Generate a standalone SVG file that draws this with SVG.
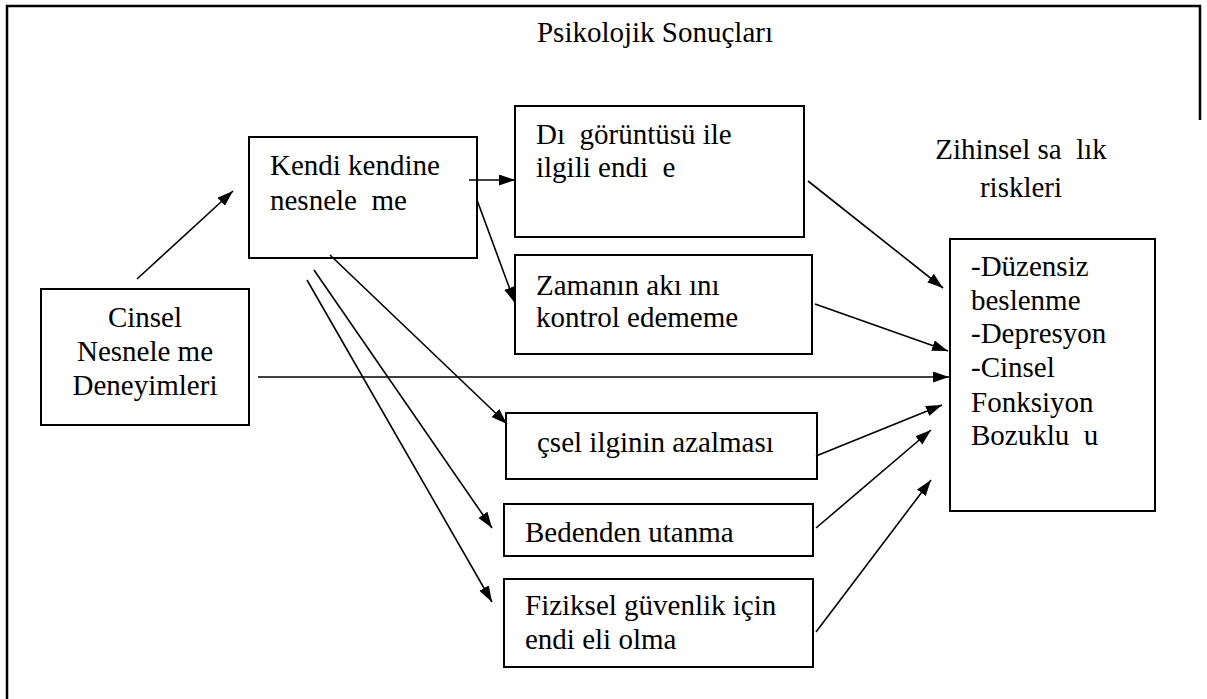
<svg xmlns="http://www.w3.org/2000/svg" width="1207" height="699" viewBox="0 0 1207 699" xml:space="preserve">
<defs>
<style>
.box{fill:#fff;stroke:#000;stroke-width:2}
.frame{fill:none;stroke:#000;stroke-width:2.5}
.t{font-size:29px;fill:#000;white-space:pre}
.c{stroke:#000;stroke-width:1.6;fill:none;marker-end:url(#ah)}
</style>
<marker id="ah" markerUnits="userSpaceOnUse" markerWidth="17" markerHeight="12" refX="16" refY="5.5" orient="auto">
<path d="M0,0 L16,5.5 L0,11 z" fill="#000"/>
</marker>
</defs>
<rect x="0" y="0" width="1207" height="699" fill="#fff"/>
<g id="frame">
<path class="frame" d="M7,699 L7,6 L1200,6 L1200,120"/>
</g>
<g font-family="Liberation Serif, Times New Roman, DejaVu Serif, serif">
<g id="title">
<text class="t" x="655" y="42" text-anchor="middle">Psikolojik Sonuçları</text>
</g>
<g id="risk-title">
<text class="t" x="1021" y="159" text-anchor="middle">Zihinsel sa  lık</text>
<text class="t" x="1021" y="197" text-anchor="middle">riskleri</text>
</g>
<g id="cinsel">
<rect class="box" x="41" y="289" width="208" height="136"/>
<text class="t" x="145" y="327" text-anchor="middle">Cinsel</text>
<text class="t" x="145" y="361" text-anchor="middle">Nesnele me</text>
<text class="t" x="145" y="395" text-anchor="middle">Deneyimleri</text>
</g>
<g id="kendi">
<rect class="box" x="249" y="137" width="228" height="121"/>
<text class="t" x="270" y="175">Kendi kendine</text>
<text class="t" x="270" y="210">nesnele  me</text>
</g>
<g id="dis">
<rect class="box" x="515" y="106" width="289" height="131"/>
<text class="t" x="536" y="144">Dı  görüntüsü ile</text>
<text class="t" x="536" y="177">ilgili endi  e</text>
</g>
<g id="zaman">
<rect class="box" x="515" y="255" width="297" height="99"/>
<text class="t" x="536" y="295">Zamanın akı ını</text>
<text class="t" x="536" y="327">kontrol edememe</text>
</g>
<g id="icsel">
<rect class="box" x="506" y="413" width="311" height="66"/>
<text class="t" x="537" y="452">çsel ilginin azalması</text>
</g>
<g id="beden">
<rect class="box" x="504" y="504" width="309" height="52"/>
<text class="t" x="525" y="542">Bedenden utanma</text>
</g>
<g id="fiziksel">
<rect class="box" x="504" y="579" width="309" height="88"/>
<text class="t" x="525" y="615">Fiziksel güvenlik için</text>
<text class="t" x="525" y="649">endi eli olma</text>
</g>
<g id="riskler">
<rect class="box" x="950" y="239" width="205" height="272"/>
<text class="t" x="971" y="276">-Düzensiz</text>
<text class="t" x="971" y="310">beslenme</text>
<text class="t" x="971" y="343">-Depresyon</text>
<text class="t" x="971" y="377">-Cinsel</text>
<text class="t" x="971" y="412">Fonksiyon</text>
<text class="t" x="971" y="445">Bozuklu  u</text>
</g>
</g>
<g id="connectors">
<line class="c" x1="137" y1="279" x2="233" y2="191"/>
<line class="c" x1="469" y1="180" x2="515" y2="180"/>
<line class="c" x1="477" y1="200" x2="515" y2="303"/>
<line class="c" x1="330" y1="255" x2="507" y2="424"/>
<line class="c" x1="314" y1="270" x2="492" y2="528"/>
<line class="c" x1="307" y1="280" x2="492" y2="602"/>
<line class="c" x1="258" y1="377" x2="949" y2="377"/>
<line class="c" x1="808" y1="181" x2="943" y2="288"/>
<line class="c" x1="815" y1="304" x2="948" y2="351"/>
<line class="c" x1="816" y1="456" x2="942" y2="405"/>
<line class="c" x1="816" y1="528" x2="931" y2="430"/>
<line class="c" x1="816" y1="632" x2="931" y2="480"/>
</g>
</svg>
